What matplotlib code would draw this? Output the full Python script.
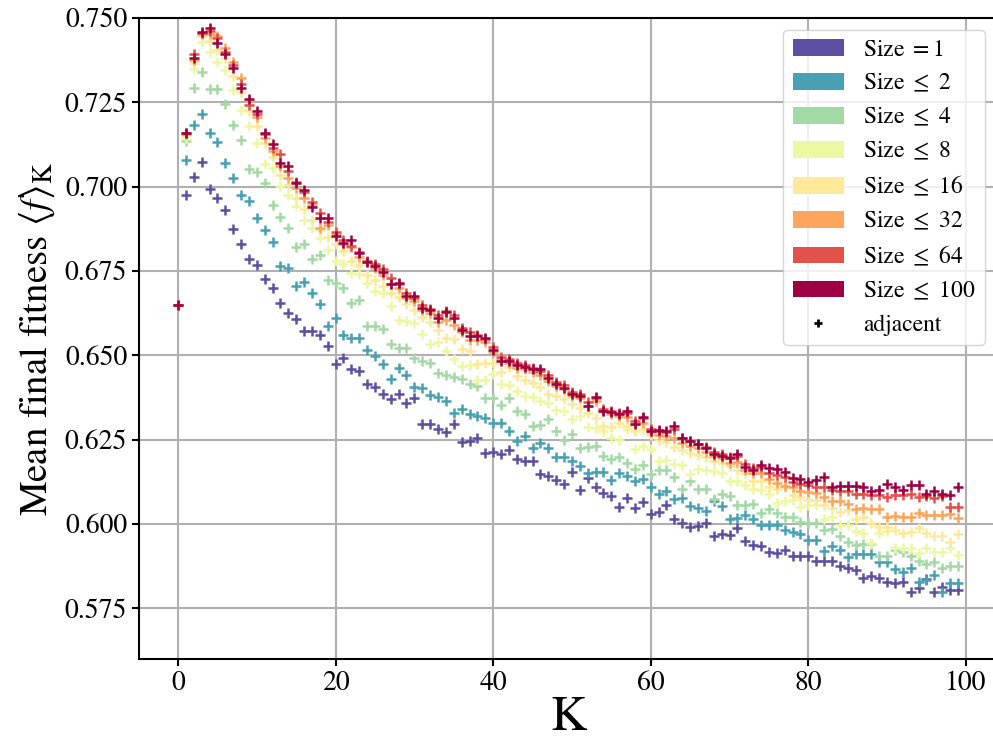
"""Mean final fitness vs K for several component sizes"""
import numpy as np
import matplotlib
matplotlib.use('Agg')
import matplotlib.pyplot as plt
from matplotlib.patches import Patch
from matplotlib.lines import Line2D

plt.rcParams['font.family'] = ['STIXGeneral', 'DejaVu Serif']
plt.rcParams['mathtext.fontset'] = 'stix'

K_VALUES = list(range(100))
LABELS = [r'Size $=$1', r'Size $\leq$ 2', r'Size $\leq$ 4', r'Size $\leq$ 8',
          r'Size $\leq$ 16', r'Size $\leq$ 32', r'Size $\leq$ 64', r'Size $\leq$ 100']

# values (K = 0..99)
size_1 = [0.665,
          0.6976, 0.7028, 0.7072, 0.6993, 0.6966, 0.6932, 0.6873, 0.6831, 0.6784, 0.6769,
          0.6727, 0.6700, 0.6655, 0.6626, 0.6608, 0.6571, 0.6571, 0.6560, 0.6527, 0.6473,
          0.6491, 0.6458, 0.6453, 0.6414, 0.6406, 0.6384, 0.6369, 0.6384, 0.6359, 0.6374,
          0.6297, 0.6297, 0.6282, 0.6273, 0.6297, 0.6243, 0.6246, 0.6256, 0.6211, 0.6213,
          0.6206, 0.6219, 0.6192, 0.6187, 0.6187, 0.6147, 0.6142, 0.6130, 0.6118, 0.6154,
          0.6101, 0.6135, 0.6108, 0.6093, 0.6083, 0.6049, 0.6078, 0.6046, 0.6065, 0.6029,
          0.6034, 0.6056, 0.6016, 0.6002, 0.5992, 0.5994, 0.6002, 0.5965, 0.5969, 0.5966,
          0.5987, 0.5950, 0.5937, 0.5936, 0.5917, 0.5914, 0.5922, 0.5906, 0.5906, 0.5906,
          0.5891, 0.5889, 0.5889, 0.5874, 0.5868, 0.5864, 0.5839, 0.5845, 0.5841, 0.5827,
          0.5826, 0.5827, 0.5799, 0.5809, 0.5838, 0.5797, 0.5813, 0.5804, 0.5803]
size_2 = [0.665,
          0.7080, 0.7183, 0.7215, 0.7160, 0.7131, 0.7070, 0.7025, 0.6976, 0.6956, 0.6907,
          0.6870, 0.6836, 0.6764, 0.6759, 0.6705, 0.6718, 0.6685, 0.6653, 0.6586, 0.6611,
          0.6559, 0.6552, 0.6552, 0.6517, 0.6497, 0.6473, 0.6431, 0.6463, 0.6441, 0.6407,
          0.6404, 0.6381, 0.6377, 0.6364, 0.6328, 0.6342, 0.6325, 0.6320, 0.6315, 0.6300,
          0.6298, 0.6275, 0.6246, 0.6260, 0.6226, 0.6241, 0.6226, 0.6197, 0.6197, 0.6187,
          0.6172, 0.6152, 0.6155, 0.6155, 0.6130, 0.6152, 0.6142, 0.6128, 0.6134, 0.6108,
          0.6088, 0.6098, 0.6073, 0.6078, 0.6052, 0.6046, 0.6038, 0.6068, 0.6053, 0.6014,
          0.6019, 0.6026, 0.6016, 0.5996, 0.5996, 0.5996, 0.5982, 0.5976, 0.5969, 0.5953,
          0.5953, 0.5920, 0.5935, 0.5923, 0.5901, 0.5911, 0.5911, 0.5911, 0.5888, 0.5888,
          0.5866, 0.5856, 0.5868, 0.5827, 0.5835, 0.5850, 0.5797, 0.5825, 0.5825]
size_4 = [0.665,
          0.7135, 0.7292, 0.7341, 0.7290, 0.7290, 0.7245, 0.7183, 0.7137, 0.7052, 0.7042,
          0.7011, 0.6946, 0.6910, 0.6877, 0.6820, 0.6831, 0.6784, 0.6796, 0.6722, 0.6715,
          0.6700, 0.6655, 0.6665, 0.6586, 0.6586, 0.6577, 0.6532, 0.6522, 0.6522, 0.6493,
          0.6483, 0.6478, 0.6446, 0.6441, 0.6436, 0.6431, 0.6414, 0.6410, 0.6374, 0.6374,
          0.6354, 0.6374, 0.6335, 0.6325, 0.6291, 0.6293, 0.6310, 0.6275, 0.6250, 0.6268,
          0.6226, 0.6228, 0.6230, 0.6201, 0.6191, 0.6197, 0.6181, 0.6162, 0.6175, 0.6149,
          0.6159, 0.6159, 0.6139, 0.6105, 0.6128, 0.6104, 0.6104, 0.6073, 0.6088, 0.6084,
          0.6056, 0.6056, 0.6058, 0.6032, 0.6044, 0.6032, 0.6022, 0.6022, 0.6006, 0.6004,
          0.6002, 0.5982, 0.5984, 0.5965, 0.5945, 0.5937, 0.5939, 0.5939, 0.5906, 0.5906,
          0.5923, 0.5918, 0.5906, 0.5891, 0.5881, 0.5886, 0.5868, 0.5874, 0.5874]
size_8 = [0.665,
          0.7145, 0.7348, 0.7428, 0.7398, 0.7368, 0.7346, 0.7287, 0.7226, 0.7180, 0.7129,
          0.7068, 0.7055, 0.7001, 0.6976, 0.6941, 0.6902, 0.6877, 0.6848, 0.6813, 0.6779,
          0.6772, 0.6745, 0.6740, 0.6715, 0.6690, 0.6685, 0.6645, 0.6606, 0.6601, 0.6596,
          0.6562, 0.6534, 0.6540, 0.6512, 0.6488, 0.6468, 0.6472, 0.6428, 0.6428, 0.6445,
          0.6414, 0.6412, 0.6394, 0.6380, 0.6375, 0.6363, 0.6358, 0.6338, 0.6336, 0.6310,
          0.6320, 0.6286, 0.6283, 0.6276, 0.6256, 0.6250, 0.6281, 0.6221, 0.6231, 0.6221,
          0.6187, 0.6189, 0.6178, 0.6174, 0.6147, 0.6164, 0.6160, 0.6158, 0.6151, 0.6128,
          0.6128, 0.6115, 0.6105, 0.6100, 0.6088, 0.6061, 0.6068, 0.6070, 0.6051, 0.6055,
          0.6055, 0.6016, 0.6022, 0.5998, 0.5998, 0.5980, 0.5972, 0.5943, 0.5974, 0.5978,
          0.5928, 0.5928, 0.5930, 0.5915, 0.5930, 0.5918, 0.5918, 0.5928, 0.5907]
size_16 = [0.665,
           0.7152, 0.7365, 0.7445, 0.7432, 0.7405, 0.7380, 0.7328, 0.7280, 0.7225, 0.7180,
           0.7130, 0.7088, 0.7035, 0.7005, 0.6965, 0.6935, 0.6900, 0.6870, 0.6852, 0.6830,
           0.6810, 0.6779, 0.6769, 0.6739, 0.6724, 0.6705, 0.6685, 0.6672, 0.6652, 0.6635,
           0.6612, 0.6600, 0.6575, 0.6552, 0.6548, 0.6519, 0.6512, 0.6473, 0.6478, 0.6478,
           0.6450, 0.6465, 0.6438, 0.6428, 0.6417, 0.6405, 0.6384, 0.6379, 0.6370, 0.6355,
           0.6345, 0.6330, 0.6315, 0.6291, 0.6288, 0.6300, 0.6290, 0.6275, 0.6280, 0.6265,
           0.6250, 0.6242, 0.6228, 0.6220, 0.6211, 0.6205, 0.6198, 0.6187, 0.6180, 0.6172,
           0.6160, 0.6150, 0.6126, 0.6126, 0.6108, 0.6104, 0.6108, 0.6085, 0.6080, 0.6072,
           0.6070, 0.6055, 0.6048, 0.6034, 0.6040, 0.6016, 0.6020, 0.6004, 0.5990, 0.5992,
           0.5982, 0.5972, 0.5975, 0.5989, 0.5972, 0.5965, 0.5963, 0.5947, 0.5970]
size_32 = [0.665,
           0.7155, 0.7375, 0.7452, 0.7452, 0.7447, 0.7410, 0.7370, 0.7322, 0.7255, 0.7205,
           0.7145, 0.7105, 0.7060, 0.7025, 0.6995, 0.6965, 0.6945, 0.6877, 0.6885, 0.6858,
           0.6830, 0.6822, 0.6790, 0.6775, 0.6760, 0.6738, 0.6712, 0.6700, 0.6670, 0.6660,
           0.6635, 0.6625, 0.6600, 0.6605, 0.6590, 0.6570, 0.6545, 0.6545, 0.6538, 0.6510,
           0.6490, 0.6478, 0.6462, 0.6458, 0.6450, 0.6440, 0.6425, 0.6410, 0.6400, 0.6380,
           0.6372, 0.6350, 0.6365, 0.6335, 0.6325, 0.6320, 0.6318, 0.6295, 0.6300, 0.6272,
           0.6265, 0.6262, 0.6255, 0.6240, 0.6232, 0.6225, 0.6212, 0.6200, 0.6195, 0.6180,
           0.6185, 0.6160, 0.6150, 0.6152, 0.6132, 0.6120, 0.6112, 0.6110, 0.6098, 0.6095,
           0.6092, 0.6080, 0.6068, 0.6068, 0.6060, 0.6044, 0.6046, 0.6045, 0.6045, 0.6021,
           0.6023, 0.6021, 0.6021, 0.6031, 0.6025, 0.6027, 0.6027, 0.6028, 0.6019]
size_64 = [0.665,
           0.7158, 0.7392, 0.7455, 0.7460, 0.7440, 0.7400, 0.7360, 0.7305, 0.7242, 0.7215,
           0.7155, 0.7115, 0.7096, 0.7045, 0.7015, 0.6985, 0.6955, 0.6922, 0.6895, 0.6865,
           0.6842, 0.6825, 0.6805, 0.6780, 0.6770, 0.6755, 0.6728, 0.6712, 0.6684, 0.6670,
           0.6650, 0.6636, 0.6620, 0.6632, 0.6618, 0.6580, 0.6568, 0.6560, 0.6548, 0.6525,
           0.6495, 0.6490, 0.6478, 0.6470, 0.6462, 0.6452, 0.6440, 0.6420, 0.6412, 0.6392,
           0.6384, 0.6362, 0.6372, 0.6342, 0.6335, 0.6330, 0.6328, 0.6305, 0.6315, 0.6282,
           0.6276, 0.6272, 0.6280, 0.6255, 0.6245, 0.6238, 0.6228, 0.6212, 0.6208, 0.6198,
           0.6200, 0.6178, 0.6165, 0.6168, 0.6150, 0.6145, 0.6140, 0.6125, 0.6118, 0.6115,
           0.6110, 0.6108, 0.6100, 0.6098, 0.6099, 0.6090, 0.6090, 0.6087, 0.6085, 0.6080,
           0.6086, 0.6085, 0.6088, 0.6080, 0.6082, 0.6078, 0.6083, 0.6050, 0.6050]
size_100 = [0.665,
            0.7159, 0.7381, 0.7457, 0.7469, 0.7427, 0.7393, 0.7351, 0.7292, 0.7260, 0.7223,
            0.7159, 0.7126, 0.7070, 0.7060, 0.7011, 0.6991, 0.6940, 0.6907, 0.6907, 0.6853,
            0.6833, 0.6843, 0.6803, 0.6777, 0.6764, 0.6747, 0.6710, 0.6715, 0.6675, 0.6675,
            0.6641, 0.6633, 0.6611, 0.6628, 0.6610, 0.6576, 0.6557, 0.6556, 0.6552, 0.6517,
            0.6483, 0.6483, 0.6470, 0.6466, 0.6458, 0.6458, 0.6433, 0.6414, 0.6404, 0.6384,
            0.6379, 0.6349, 0.6377, 0.6335, 0.6332, 0.6325, 0.6335, 0.6295, 0.6318, 0.6275,
            0.6277, 0.6275, 0.6291, 0.6255, 0.6246, 0.6236, 0.6226, 0.6206, 0.6201, 0.6196,
            0.6206, 0.6169, 0.6159, 0.6176, 0.6165, 0.6163, 0.6155, 0.6135, 0.6133, 0.6125,
            0.6130, 0.6139, 0.6108, 0.6111, 0.6111, 0.6111, 0.6108, 0.6098, 0.6100, 0.6118,
            0.6108, 0.6102, 0.6116, 0.6115, 0.6088, 0.6098, 0.6088, 0.6086, 0.6108]

series = [size_1, size_2, size_4, size_8, size_16, size_32, size_64, size_100]
colors = plt.cm.Spectral(np.linspace(1, 0, len(series)))

fig, ax = plt.subplots(figsize=(9.93, 7.47), dpi=100)
# right spine sits just past the image edge, as in the reference
fig.subplots_adjust(left=0.14, right=1.004, top=0.976, bottom=0.118)

for vals, c in zip(series, colors):
    ax.scatter(K_VALUES, vals, marker='+', s=55, color=c, linewidths=1.8, zorder=3)

ax.set_ylim(0.56, 0.75)
ax.set_yticks([0.575, 0.600, 0.625, 0.650, 0.675, 0.700, 0.725, 0.750])
ax.set_xticks([0, 20, 40, 60, 80, 100])
ax.grid(True, color='#b0b0b0', linewidth=1.5)
ax.set_axisbelow(True)
ax.tick_params(labelsize=20, width=1.5, length=5)
for sp in ax.spines.values():
    sp.set_linewidth(1.5)

ax.set_xlabel('K', fontsize=36, labelpad=0)
ax.set_ylabel(r'Mean final fitness $\langle f\rangle_{\rm K}$', fontsize=28, labelpad=6)

handles = [Patch(facecolor=c, label=l) for c, l in zip(colors, LABELS)]
handles.append(Line2D([], [], marker='+', color='k', linestyle='none',
                      markersize=6, markeredgewidth=2, label='adjacent'))
ax.legend(handles=handles, loc='upper right', fontsize=17, handlelength=2.2)

plt.savefig('out.png', dpi=100)
